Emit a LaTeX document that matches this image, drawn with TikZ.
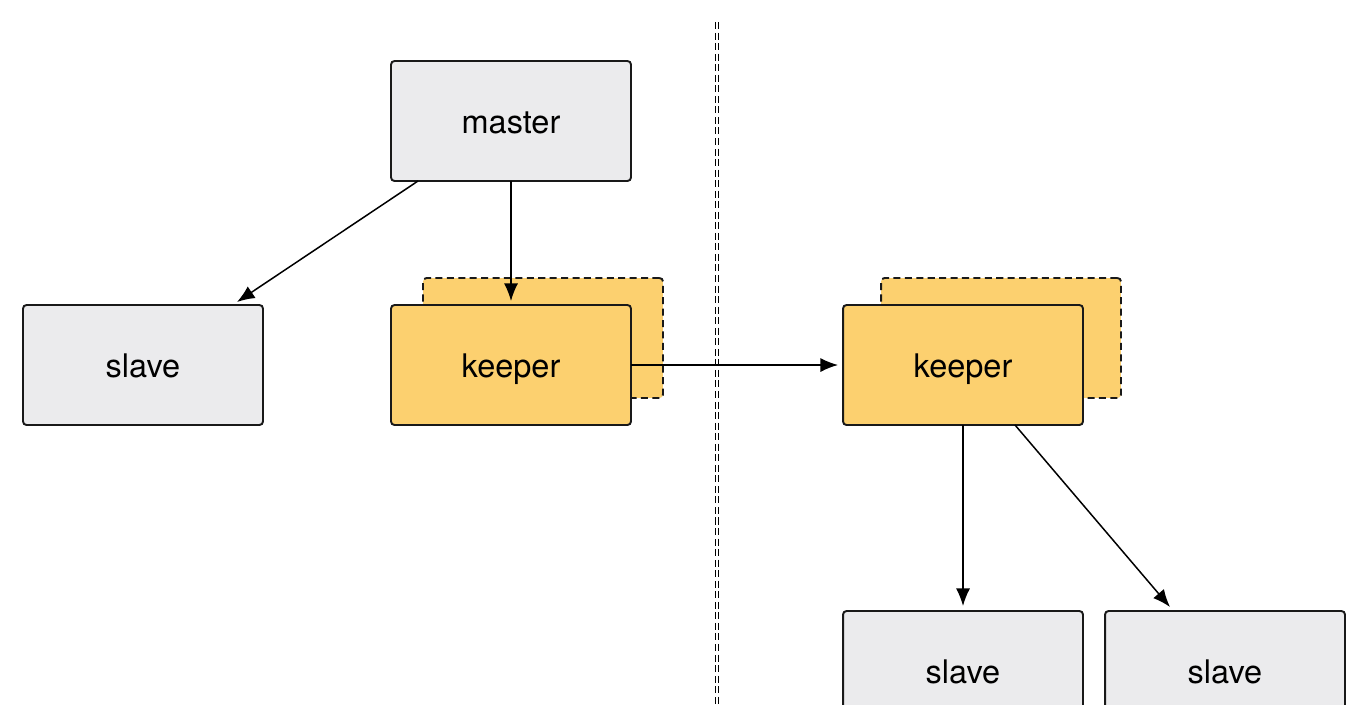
\documentclass[tikz,border=0pt]{standalone}
\usepackage{fontspec}
\setmainfont{TeX Gyre Heros}
\usetikzlibrary{arrows.meta}
\definecolor{boxgray}{HTML}{EBEBED}
\definecolor{keepyellow}{HTML}{FCD06F}
\tikzset{
  box/.style={draw=black!90, line width=1.1pt, rounded corners=2pt, fill=boxgray,
    minimum width=4.8cm, minimum height=2.4cm, outer sep=0pt,
    text height=14pt, text depth=0pt,
    font=\fontsize{18.5}{22}\selectfont},
  keeperbox/.style={box, fill=keepyellow},
  shadowbox/.style={keeperbox, dashed, dash pattern=on 4pt off 2.5pt},
  link/.style={line width=0.85pt, -{Latex[length=10pt, width=8pt]}}
}
\begin{document}
\begin{tikzpicture}[x=0.02cm, y=-0.02cm]
\useasboundingbox[fill=white] (0,0) rectangle (1368,704);
% left side
\node[box] (master) at (511,121) {master};
\node[box] (slaveA) at (143,365) {slave};
\node[shadowbox] (keeperAback) at (543,338) {};
\node[keeperbox] (keeperA) at (511,365) {keeper};
% right side
\node[shadowbox] (keeperBback) at (1001,338) {};
\node[keeperbox] (keeperB) at (963,365) {keeper};
\node[box] (slaveB) at (963,671) {slave};
\node[box] (slaveC) at (1225,671) {slave};
% divider
\coordinate (divtop) at (717,22);
\coordinate (divbot) at (717,704);
\draw[line width=0.7pt, double distance=1pt, dash pattern=on 4pt off 2pt] (divtop) -- (divbot);
% links
\draw[link] ([xshift=0.54cm]master.south west) -- ([xshift=-0.52cm, yshift=0.06cm]slaveA.north east);
\draw[link] (master.south) -- ([yshift=0.08cm]keeperA.north);
\draw[link] (keeperA.east) -- ([xshift=-0.1cm]keeperB.west);
\draw[link] (keeperB.south) -- ([yshift=0.1cm]slaveB.north);
\draw[link] ([xshift=-1.36cm]keeperB.south east) -- ([xshift=-3.5cm, yshift=0.08cm]slaveC.north east);
\end{tikzpicture}
\end{document}
